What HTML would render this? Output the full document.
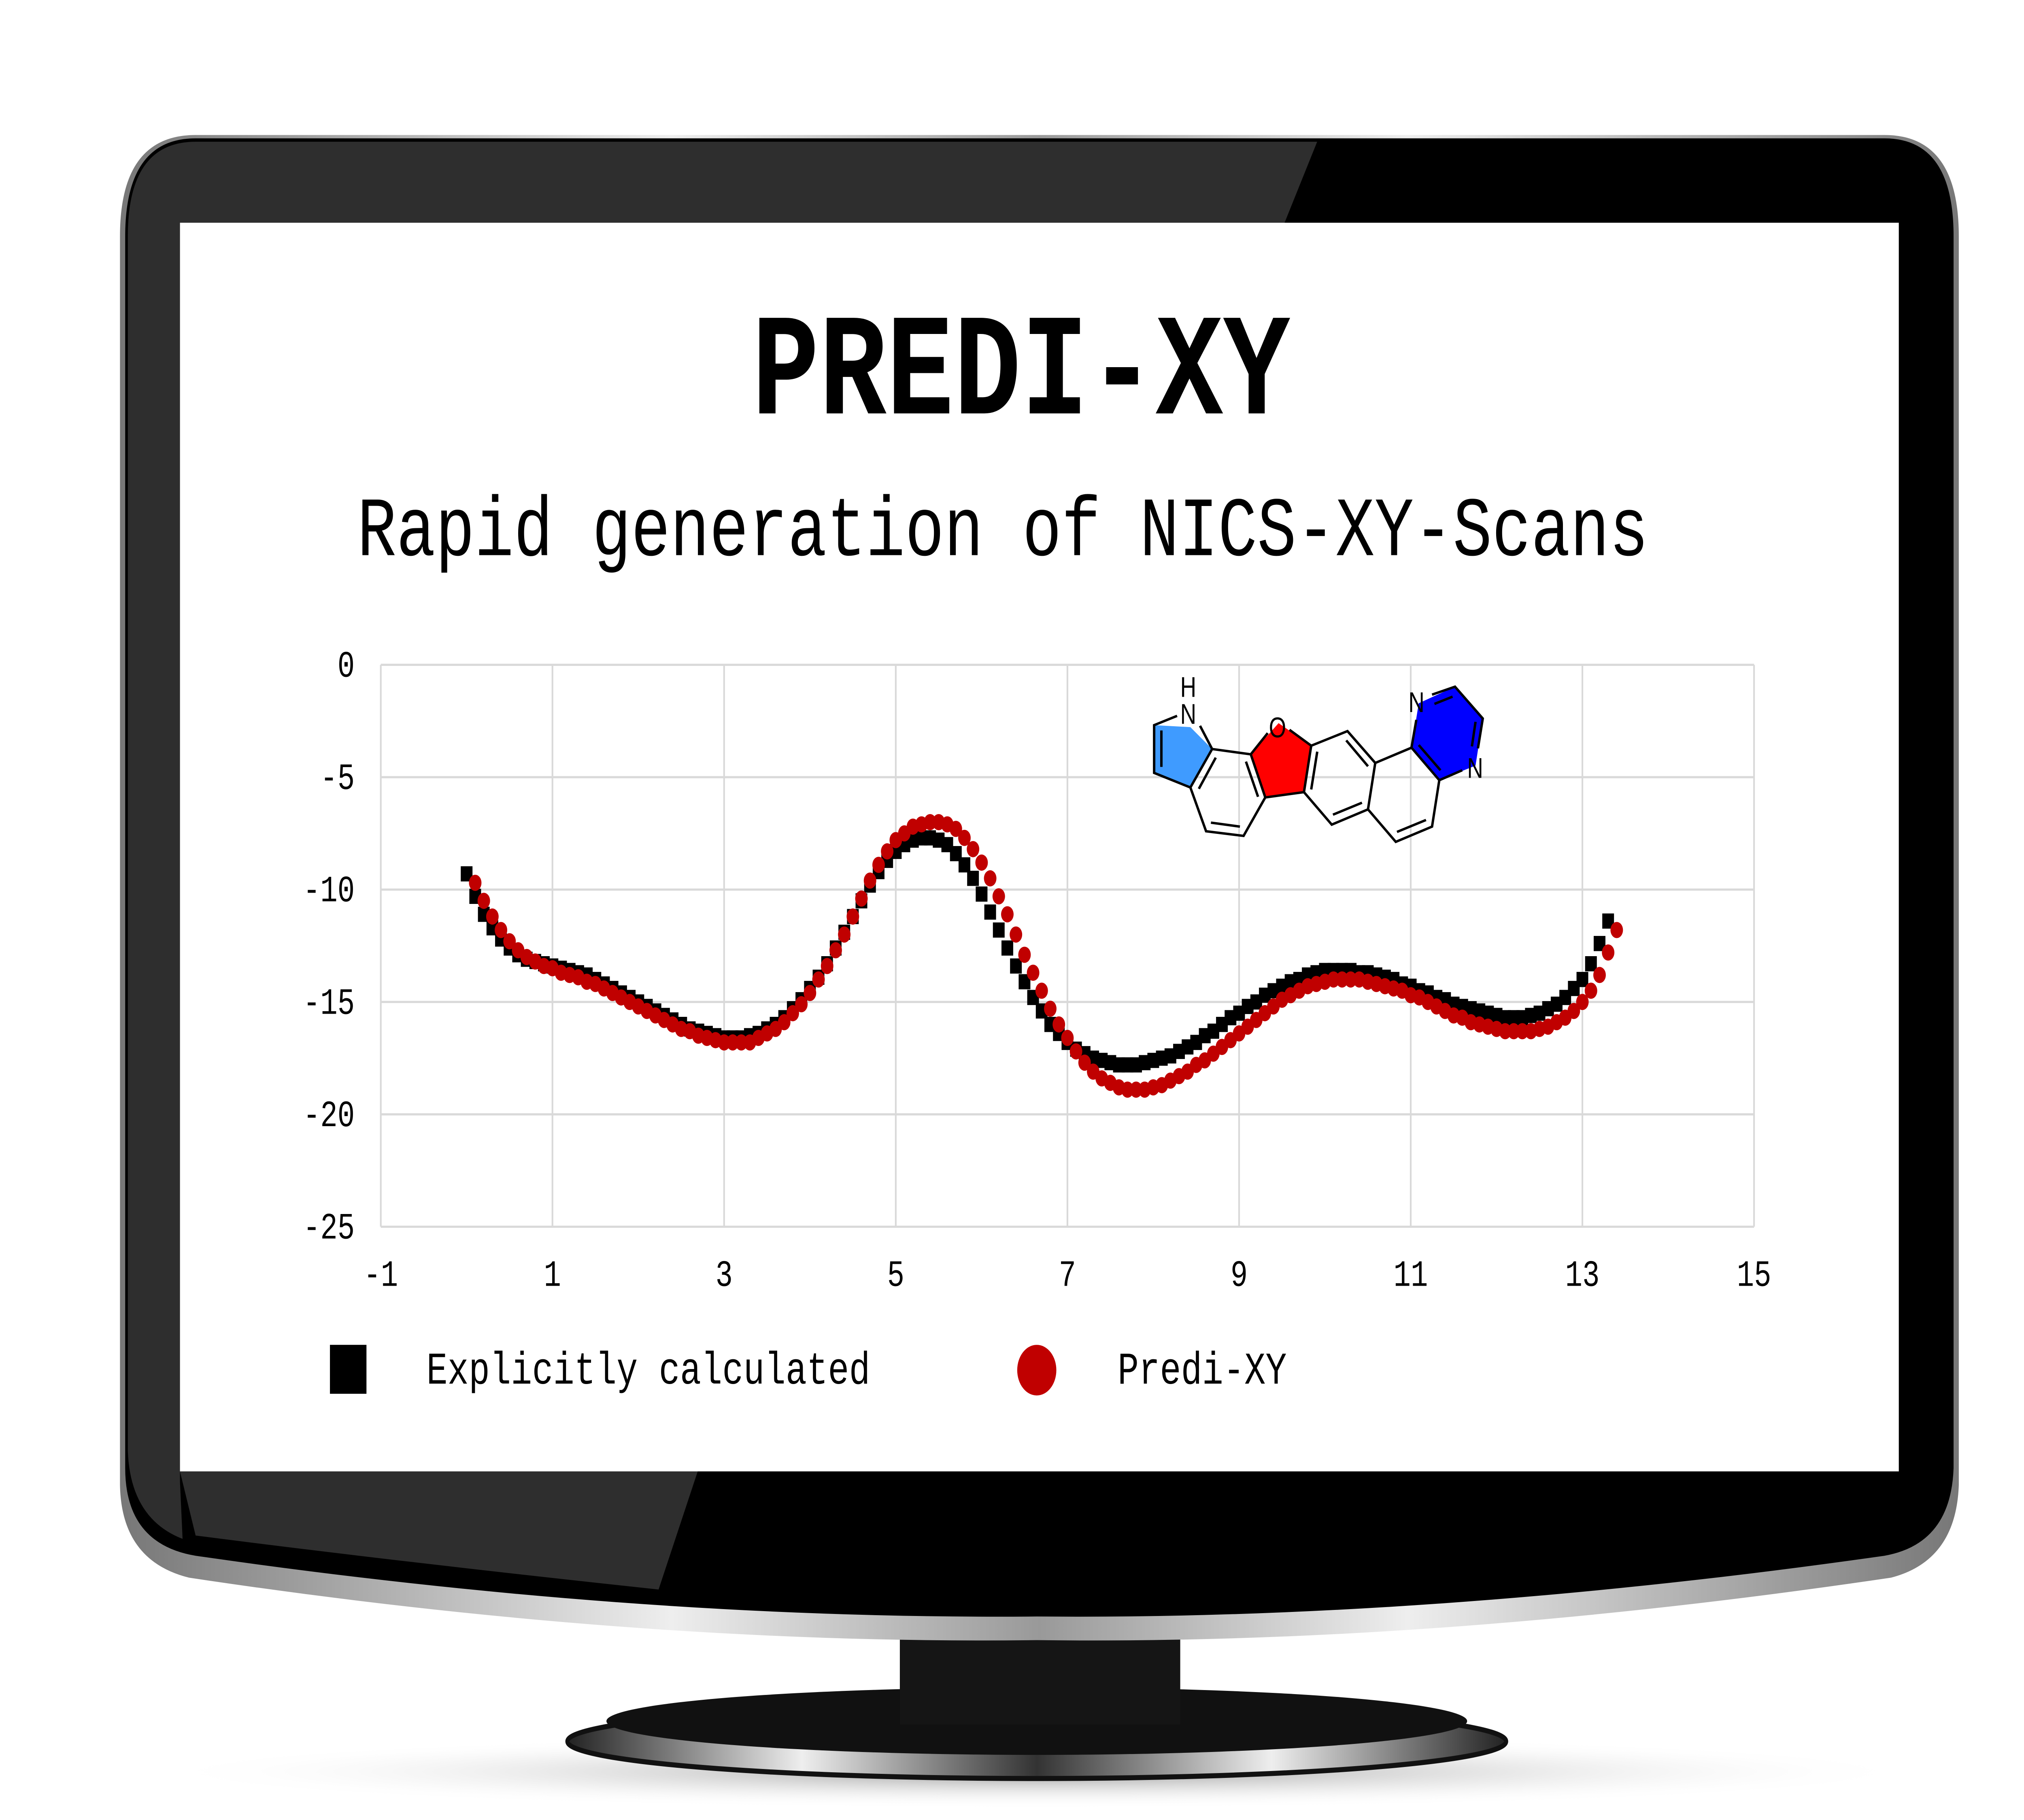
<!DOCTYPE html>
<html><head><meta charset="utf-8"><style>
html,body{margin:0;padding:0;background:#fff;width:100%;height:100%;overflow:hidden;}
svg{display:block;width:100vw;height:100vh;position:absolute;left:0;top:0;}
</style></head><body>
<svg viewBox="0 0 1552 1078.6" preserveAspectRatio="none" xmlns="http://www.w3.org/2000/svg">
<defs>
<linearGradient id="rim" x1="0" x2="1" y1="0" y2="0">
<stop offset="0" stop-color="#777"/><stop offset="0.3" stop-color="#eee"/><stop offset="0.5" stop-color="#999"/><stop offset="0.7" stop-color="#eee"/><stop offset="1" stop-color="#777"/></linearGradient>
<radialGradient id="shadow" cx="0.5" cy="0.5" r="0.5"><stop offset="0" stop-color="#999"/><stop offset="1" stop-color="#fff" stop-opacity="0"/></radialGradient>
<linearGradient id="base" x1="0" x2="1"><stop offset="0" stop-color="#222"/><stop offset="0.25" stop-color="#eee"/><stop offset="0.5" stop-color="#333"/><stop offset="0.75" stop-color="#eee"/><stop offset="1" stop-color="#222"/></linearGradient>
</defs>
<ellipse cx="795" cy="1050" rx="680" ry="22" fill="url(#shadow)"/>
<ellipse cx="795" cy="1032" rx="360" ry="22" fill="url(#base)" stroke="#111" stroke-width="3"/>
<ellipse cx="795" cy="1020" rx="330" ry="20" fill="#111"/>
<rect x="690" y="950" width="215" height="72" fill="#151515"/>
<path d="M150,80 H1445 Q1502,80 1502,140 V880 Q1500,925 1450,935 Q1100,975 795,972 Q490,975 145,935 Q93,925 92,880 V140 Q92,80 150,80 Z" fill="url(#rim)"/>
<path d="M150,82 H1445 Q1498,82 1498,140 V870 Q1496,915 1445,922 Q1100,960 795,958 Q490,960 150,922 Q96,915 96,870 V140 Q96,82 150,82 Z" fill="#000"/>
<path d="M150,84 H1010 L985,132 H138 V878 L140,912 Q100,900 98,860 V140 Q98,84 150,84 Z" fill="#3a3a3a" opacity="0.8"/>
<path d="M138,872 H535 L505,942 Q300,925 150,910 Z" fill="#2e2e2e"/>
<rect x="138" y="132" width="1318" height="740" fill="#fff"/>
<text x="783" y="245" text-anchor="middle" font-family="Liberation Mono, monospace" font-weight="bold" font-size="86">PREDI-XY</text>
<text x="769" y="329" text-anchor="middle" font-family="Liberation Mono, monospace" font-size="50">Rapid generation of NICS-XY-Scans</text>
<g id="plot"></g>
<g>
<g transform="translate(860.9,393.2) scale(0.1853,0.0786)">
<path d="M280,480 L130,465 L130,825 L280,935 L370,645 Z" fill="#3f9bff"/>
<path d="M645,450 L530,685 L590,1010 L750,970 L780,620 Z" fill="#ff0000"/>
<path d="M1225,300 L1375,175 L1490,415 L1460,770 L1310,880 L1195,635 Z" fill="#0000ff"/>
<path vector-effect="non-scaling-stroke" fill="none" stroke="#000" stroke-width="6" d="M225,395 L130,465 L130,825 L280,935 L370,645 L320,470 M160,505 L160,780 M370,645 L530,685 L590,1010 L500,1300 L345,1265 L280,935 M385,710 L315,945 M510,740 L560,1005 M365,1200 L485,1230 M530,685 L600,525 M690,500 L780,620 L750,970 L590,1010 M805,665 L780,950 M780,620 L930,510 L1045,750 L1015,1100 L865,1215 L750,970 M925,580 L1015,775 M990,1050 L870,1140 M1045,750 L1195,635 L1310,880 L1280,1230 L1130,1345 L1015,1100 M1255,1180 L1135,1270 M1225,615 L1315,805 M1195,635 L1215,425 M1280,235 L1375,175 L1490,415 L1470,640 M1290,305 L1365,250 M1460,440 L1445,625 M1310,880 L1405,805"/>
</g>
<g font-family="Liberation Sans, sans-serif" font-size="17" fill="#000">
<text x="905" y="413">H</text><text x="905" y="429">N</text>
<text x="973" y="437">O</text>
<text x="1080" y="422">N</text>
<text x="1125" y="461">N</text>
</g></g>
<rect x="253" y="797" width="28" height="29" fill="#000"/>
<text x="327" y="820" font-family="Liberation Mono, monospace" font-size="27">Explicitly calculated</text>
<circle cx="795" cy="812" r="15" fill="#c00000"/>
<text x="857" y="820" font-family="Liberation Mono, monospace" font-size="27">Predi-XY</text>
</svg>
<script>
const xTicks=[-1,1,3,5,7,9,11,13,15];
const yTicks=[0,-5,-10,-15,-20,-25];
const explicitX0=0.0, step=0.1;
const explicitY=[-9.3,-10.3,-11.1,-11.7,-12.2,-12.6,-12.9,-13.1,-13.2,-13.3,
-13.4,-13.5,-13.6,-13.7,-13.8,-14.0,-14.2,-14.4,-14.6,-14.8,
-15.0,-15.2,-15.4,-15.6,-15.8,-16.0,-16.2,-16.3,-16.4,-16.5,
-16.6,-16.6,-16.6,-16.5,-16.4,-16.2,-16.0,-15.7,-15.3,-14.9,
-14.4,-13.9,-13.3,-12.6,-11.9,-11.2,-10.5,-9.8,-9.2,-8.7,
-8.3,-8.0,-7.8,-7.7,-7.7,-7.8,-8.0,-8.4,-8.9,-9.5,
-10.2,-11.0,-11.8,-12.6,-13.4,-14.1,-14.8,-15.4,-16.0,-16.4,
-16.8,-17.1,-17.3,-17.5,-17.6,-17.7,-17.8,-17.8,-17.8,-17.7,
-17.6,-17.5,-17.4,-17.2,-17.0,-16.8,-16.5,-16.3,-16.0,-15.7,
-15.5,-15.2,-15.0,-14.7,-14.5,-14.3,-14.1,-14.0,-13.8,-13.7,
-13.6,-13.6,-13.6,-13.6,-13.7,-13.7,-13.8,-13.9,-14.0,-14.2,
-14.3,-14.5,-14.6,-14.8,-14.9,-15.1,-15.2,-15.3,-15.4,-15.5,
-15.6,-15.7,-15.7,-15.7,-15.6,-15.5,-15.3,-15.1,-14.8,-14.4,
-14.0,-13.3,-12.4,-11.4];
const prediX0=0.1;
const prediY=[-9.7,-10.5,-11.2,-11.8,-12.3,-12.7,-13.0,-13.2,-13.4,-13.5,
-13.7,-13.8,-13.9,-14.1,-14.2,-14.4,-14.6,-14.8,-15.0,-15.2,
-15.4,-15.6,-15.8,-16.0,-16.2,-16.3,-16.5,-16.6,-16.7,-16.8,
-16.8,-16.8,-16.8,-16.6,-16.4,-16.2,-15.9,-15.5,-15.1,-14.6,
-14.0,-13.4,-12.7,-12.0,-11.2,-10.4,-9.6,-8.9,-8.3,-7.8,
-7.5,-7.2,-7.1,-7.0,-7.0,-7.1,-7.3,-7.7,-8.2,-8.8,
-9.5,-10.3,-11.1,-12.0,-12.9,-13.7,-14.5,-15.3,-16.0,-16.6,
-17.2,-17.7,-18.1,-18.4,-18.6,-18.8,-18.9,-18.9,-18.9,-18.8,
-18.7,-18.5,-18.3,-18.1,-17.8,-17.6,-17.3,-17.0,-16.7,-16.4,
-16.1,-15.8,-15.5,-15.2,-14.9,-14.7,-14.5,-14.3,-14.2,-14.1,
-14.0,-14.0,-14.0,-14.0,-14.1,-14.2,-14.3,-14.4,-14.5,-14.7,
-14.8,-15.0,-15.2,-15.4,-15.6,-15.7,-15.9,-16.0,-16.1,-16.2,
-16.3,-16.3,-16.3,-16.3,-16.2,-16.1,-15.9,-15.7,-15.4,-15.0,
-14.5,-13.8,-12.8,-11.8];
const NS='http://www.w3.org/2000/svg';
const L=292,R=1345,T=394,B=727;
const sx=v=>L+(v+1)/16*(R-L);
const sy=v=>T+(0-v)/25*(B-T);
const g=document.getElementById('plot');
function mk(tag,attrs){const e=document.createElementNS(NS,tag);for(const k in attrs)e.setAttribute(k,attrs[k]);g.appendChild(e);return e;}
xTicks.forEach(t=>{
 const l=mk('line',{x1:sx(t),x2:sx(t),y1:T,y2:B,stroke:'#d9d9d9','stroke-width':1.3});
 
 
 const tx=mk('text',{x:sx(t),y:B+35,'text-anchor':'middle','font-family':'Liberation Mono, monospace','font-size':22});
 tx.textContent=t;
 
 
});
yTicks.forEach(t=>{
 const l=mk('line',{x1:L,x2:R,y1:sy(t),y2:sy(t),stroke:'#d9d9d9','stroke-width':1.3});
 
 
 const tx=mk('text',{x:272,y:sy(t)+7,'text-anchor':'end','font-family':'Liberation Mono, monospace','font-size':22});
 tx.textContent=t;
 
 
});
explicitY.forEach((v,i)=>{
 const x=sx(explicitX0+i*step),y=sy(v);
 const r=mk('rect',{x:x-4.5,y:y-4.5,width:9,height:9,fill:'#000'});
 
 
});
prediY.forEach((v,i)=>{
 const x=sx(prediX0+i*step),y=sy(v);
 const c=mk('circle',{cx:x,cy:y,r:4.8,fill:'#c00000'});
 
 
});
</script>
</body></html>
